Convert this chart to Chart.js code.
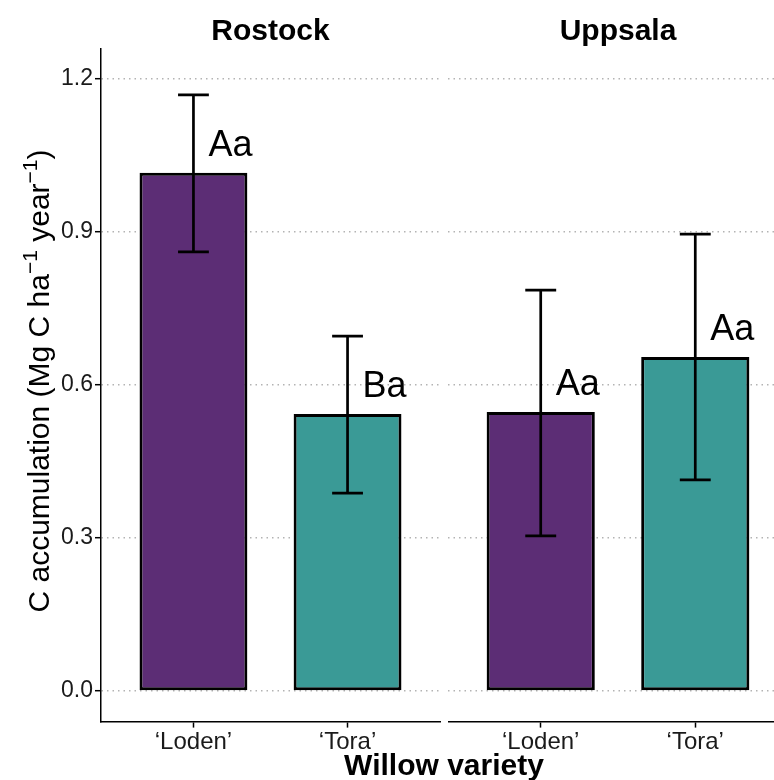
<!DOCTYPE html>
<html>
<head>
<meta charset="utf-8">
<script src="https://cdn.jsdelivr.net/npm/chart.js@4.4.1/dist/chart.umd.min.js"></script>
<style>
  html, body { margin: 0; padding: 0; background: #fff; overflow: hidden; }
  #wrap { position: relative; width: 774px; height: 780px; overflow: hidden; }
  #rostock { position: absolute; left: 0; top: 0; }
  #uppsala { position: absolute; left: 448px; top: 0; }
</style>
</head>
<body>
<div id="wrap">
  <canvas id="rostock" width="774" height="780"></canvas>
  <canvas id="uppsala" width="340" height="780"></canvas>
</div>
<script>
// data
const sites = ["Rostock", "Uppsala"];
const varieties = ["‘Loden’", "‘Tora’"];
const rostockMean = [1.016, 0.543];
const rostockLow = [0.861, 0.388];
const rostockHigh = [1.169, 0.696];
const rostockLetters = ["Aa", "Ba"];
const uppsalaMean = [0.547, 0.655];
const uppsalaLow = [0.304, 0.414];
const uppsalaHigh = [0.786, 0.896];
const uppsalaLetters = ["Aa", "Aa"];
const yTicks = [0, 0.3, 0.6, 0.9, 1.2];
const barColors = ["#5c2d75", "#3a9a96"];

const FONT = "'Liberation Sans', Arial, Helvetica, sans-serif";

// error bars, letters, strip titles (and axis titles on the first panel)
const facetText = {
  id: "facetText",
  afterDatasetsDraw(chart, args, opts) {
    const ctx = chart.ctx, x = chart.scales.x, y = chart.scales.y;
    ctx.save();
    ctx.strokeStyle = "#000";
    ctx.lineWidth = 2.7;
    ctx.lineCap = "butt";
    opts.means.forEach((m, i) => {
      const px = x.getPixelForValue(i + 1);
      const half = x.getPixelForValue(i + 1.1) - px;
      const top = y.getPixelForValue(opts.highs[i]);
      const bot = y.getPixelForValue(opts.lows[i]);
      ctx.beginPath();
      ctx.moveTo(px, top); ctx.lineTo(px, bot);
      ctx.moveTo(px - half, top); ctx.lineTo(px + half, top);
      ctx.moveTo(px - half, bot); ctx.lineTo(px + half, bot);
      ctx.stroke();
      ctx.fillStyle = "#000";
      ctx.font = "36px " + FONT;
      ctx.textAlign = "center";
      ctx.textBaseline = "alphabetic";
      ctx.fillText(opts.letters[i], x.getPixelForValue(i + 1.24), y.getPixelForValue(m + 0.058) + 13);
    });

    ctx.font = "bold 30px " + FONT;
    ctx.textAlign = "center";
    ctx.fillStyle = "#000";
    ctx.fillText(opts.site, (x.left + x.right) / 2, 40);

    if (opts.axisTitles) {
      ctx.fillText("Willow variety", 444, 775);

      // y title with superscripts
      const parts = [
        ["C accumulation (Mg C ha", false],
        ["\u22121", true],
        [" year", false],
        ["\u22121", true],
        [")", false]
      ];
      const big = "30px " + FONT, small = "21px " + FONT;
      let total = 0;
      parts.forEach(p => { ctx.font = p[1] ? small : big; total += ctx.measureText(p[0]).width; });
      ctx.translate(49, 381);
      ctx.rotate(-Math.PI / 2);
      ctx.textAlign = "left";
      let cx = -total / 2;
      parts.forEach(p => {
        ctx.font = p[1] ? small : big;
        ctx.fillText(p[0], cx, p[1] ? -12 : 0);
        cx += ctx.measureText(p[0]).width;
      });
    }
    ctx.restore();
  }
};

function makeFacet(id, site, means, lows, highs, letters, first) {
  return new Chart(document.getElementById(id), {
    type: "bar",
    data: {
      datasets: [{
        data: means.map((v, i) => ({ x: i + 1, y: v })),
        backgroundColor: barColors,
        borderColor: "#000",
        borderWidth: 3,
        borderSkipped: false,
        categoryPercentage: 1,
        barPercentage: 0.7
      }]
    },
    options: {
      responsive: false,
      animation: false,
      layout: { padding: { top: 48.4, right: first ? 334 : 0, bottom: 0, left: 0 } },
      plugins: {
        legend: { display: false },
        tooltip: { enabled: false },
        facetText: { site, means, lows, highs, letters, axisTitles: first }
      },
      scales: {
        x: {
          type: "linear",
          offset: false,
          min: 0.4,
          max: 2.6,
          afterBuildTicks: s => { s.ticks = [{ value: 1 }, { value: 2 }]; },
          afterFit: s => { s.height = 58.4; },
          grid: {
            offset: false,
            drawOnChartArea: false,
            drawTicks: true,
            tickLength: 6,
            tickColor: "#000",
            tickWidth: 1.5
          },
          border: { display: true, color: "#000", width: 1.5 },
          ticks: {
            padding: 0,
            maxRotation: 0,
            autoSkip: false,
            color: "#1a1a1a",
            font: { family: FONT, size: 24 },
            callback: v => varieties[v - 1]
          }
        },
        y: {
          min: -0.06,
          max: 1.26,
          afterBuildTicks: s => { s.ticks = yTicks.map(v => ({ value: v })); },
          afterFit: s => { s.width = first ? 101 : 0; },
          grid: {
            color: "#b3b3b3",
            lineWidth: 1.4,
            drawTicks: first,
            tickLength: 6,
            tickColor: "#000",
            tickWidth: 1.5,
            tickBorderDash: []
          },
          border: { display: first, color: "#000", width: 1.5, dash: [1.5, 4] },
          ticks: {
            display: first,
            padding: 2,
            color: "#1a1a1a",
            font: { family: FONT, size: 23 },
            callback: v => v.toFixed(1)
          }
        }
      }
    },
    plugins: [facetText]
  });
}

makeFacet("rostock", sites[0], rostockMean, rostockLow, rostockHigh, rostockLetters, true);
makeFacet("uppsala", sites[1], uppsalaMean, uppsalaLow, uppsalaHigh, uppsalaLetters, false);
</script>
</body>
</html>
